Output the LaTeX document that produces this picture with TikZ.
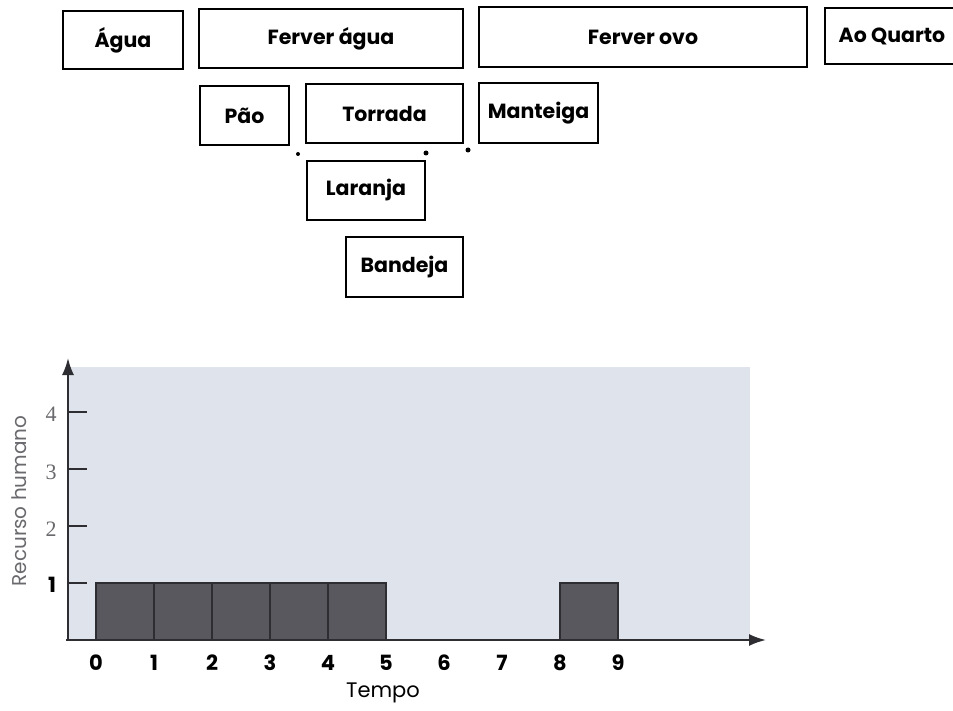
\documentclass[tikz,border=0pt]{standalone}
\usepackage{fontspec}
\setmainfont{Poppins}
\newfontfamily\tickserif{Liberation Serif}
\usetikzlibrary{arrows.meta}
\definecolor{chartbg}{RGB}{223,228,236}
\definecolor{barfill}{RGB}{88,88,94}
\definecolor{axisgray}{RGB}{45,45,50}
\definecolor{labelgray}{RGB}{105,105,110}
\tikzset{
  taskbox/.style={draw=black, line width=2.6pt, fill=white, inner sep=0pt,
    font=\fontsize{20.5}{20.5}\selectfont\bfseries},
  speck/.style={fill=black, circle, inner sep=0pt, minimum size=5pt},
  bar/.style={fill=barfill, draw=axisgray, line width=1.2pt},
  axisline/.style={draw=axisgray, line width=2pt, -{Latex[length=17pt,width=12pt]}},
  ytick/.style={draw=axisgray, line width=1.8pt},
  xnum/.style={font=\fontsize{21}{21}\selectfont\bfseries},
  ynum/.style={font=\tickserif\fontsize{22}{22}\selectfont, text=labelgray},
}
\begin{document}
\begin{tikzpicture}[x=1pt, y=-1pt]
\useasboundingbox (0,0) rectangle (953,711);

% --- task boxes ---
\node[taskbox, minimum width=120pt, minimum height=58pt] (agua)     at (123,40)    {Água};
\node[taskbox, minimum width=264pt, minimum height=59pt] (ferveragua) at (331,38.5) {Ferver água};
\node[taskbox, minimum width=328pt, minimum height=60pt] (ferverovo)  at (643,37)   {Ferver ovo};
\node[taskbox, minimum width=134pt, minimum height=56pt] (quarto)   at (892,36)    {Ao Quarto};
\node[taskbox, minimum width=89pt,  minimum height=59pt] (pao)      at (244.5,115.5) {Pão};
\node[taskbox, minimum width=157pt, minimum height=59pt] (torrada)  at (384.5,113.5) {Torrada};
\node[taskbox, minimum width=119pt, minimum height=60pt] (manteiga) at (538.5,113) {Manteiga};
\node[taskbox, minimum width=118pt, minimum height=59pt] (laranja)  at (366,190.5) {Laranja};
\node[taskbox, minimum width=117pt, minimum height=60pt] (bandeja)  at (404.5,267) {Bandeja};

% small marks between the rows
\node[speck, minimum size=4pt] (s1) at (298,154) {};
\node[speck] (s2) at (426,153) {};
\node[speck] (s3) at (468,150) {};

% --- resource chart ---
\fill[chartbg] (68,367) rectangle (750,640);

% bars, one time unit wide (58pt), one resource high (57pt)
\foreach \t in {0,...,4} {
  \draw[bar] ({96+58*\t},583) rectangle ({96+58*(\t+1)},640);
}
\draw[bar] (560,583) rectangle (618,640);

% axes
\coordinate (origin) at (68,640);
\coordinate (ytop) at (68,358);
\coordinate (xend) at (766,640);
\draw[axisline] (origin) -- (ytop);
\draw[axisline] (66,640) -- (xend);

% y ticks and labels
\foreach \v/\yy in {1/583,2/526,3/469,4/412} {
  \draw[ytick] (68,\yy) -- (87,\yy);
}
\node[font=\fontsize{21}{21}\selectfont\bfseries] (y1) at (52,585) {1};
\node[ynum] (y2) at (51,529) {2};
\node[ynum] (y3) at (51,472) {3};
\node[ynum] (y4) at (51,414) {4};

% x labels
\foreach \t in {0,...,9} {
  \node[xnum] (x\t) at ({96+58*\t},663) {\t};
}
\node[font=\fontsize{21}{21}\selectfont] (tempo) at (383,693) {Tempo};
\node[rotate=90, font=\fontsize{20}{20}\selectfont, text=labelgray] (recurso) at (19,501) {Recurso humano};
\end{tikzpicture}
\end{document}
